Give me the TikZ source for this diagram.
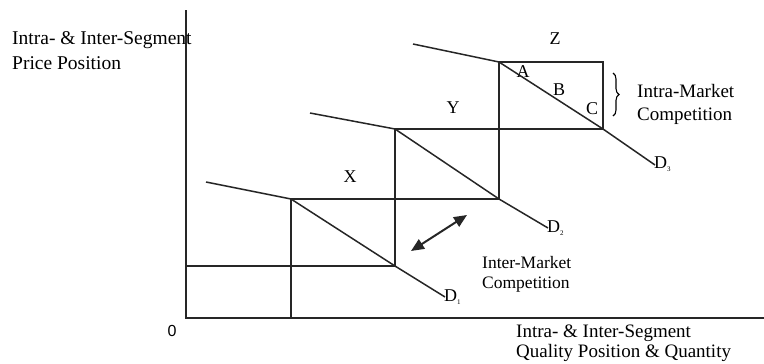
\documentclass[tikz,border=0pt]{standalone}
\usepackage{fontspec}
\setmainfont{Liberation Serif}
\newfontfamily\axisfont{Liberation Sans}
\usetikzlibrary{arrows.meta,decorations.pathreplacing}
\begin{document}
\begin{tikzpicture}[x=1pt,y=-1pt,
  ln/.style={line width=1.5pt,black!85},
  lbl/.style={inner sep=0pt,font=\fontsize{18}{22}\selectfont},
  txt/.style={inner sep=0pt,anchor=base west,font=\fontsize{19}{22}\selectfont},
  txtsm/.style={inner sep=0pt,anchor=base west,font=\fontsize{17.5}{20}\selectfont},
  sub/.style={inner sep=0pt,anchor=west,font=\fontsize{18}{22}\selectfont}]
\useasboundingbox (0,0) rectangle (764,364);
% axes
\coordinate (O) at (186,318);
\coordinate (ytop) at (186,10);
\coordinate (xend) at (764,318);
\draw[ln] (ytop) -- (O) -- (xend);
% key points
\coordinate (p1) at (291,199);
\coordinate (p2) at (395,129);
\coordinate (p3) at (499,62);
\coordinate (q1) at (395,266);
\coordinate (q2) at (499,199);
\coordinate (q3) at (603,129);
\coordinate (r3) at (603,62);
\coordinate (yl) at (186,266);
\coordinate (xb) at (291,318);
% staircase boxes
\draw[ln] (yl) -- (q1);
\draw[ln] (xb) -- (p1) -- (q2);
\draw[ln] (q1) -- (p2) -- (q3);
\draw[ln] (q2) -- (p3) -- (r3) -- (q3);
% demand curves (kinked)
\coordinate (k1) at (206,182);
\coordinate (k2) at (310,113);
\coordinate (k3) at (413,44);
\coordinate (e1) at (445,297);
\coordinate (e2) at (548,228);
\coordinate (e3) at (655,165);
\draw[ln] (k1) -- (p1) -- (q1) -- (e1);
\draw[ln] (k2) -- (p2) -- (q2) -- (e2);
\draw[ln] (k3) -- (p3) -- (q3) -- (e3);
% curve labels
\node[sub] (d1) at (444,297) {D\raisebox{-0.3ex}{\fontsize{7}{7}\selectfont 1}};
\node[sub] (d2) at (547,228) {D\raisebox{-0.3ex}{\fontsize{7}{7}\selectfont 2}};
\node[sub] (d3) at (654,164) {D\raisebox{-0.3ex}{\fontsize{7}{7}\selectfont 3}};
\node[lbl] (X) at (350,177) {X};
\node[lbl] (Y) at (453,108) {Y};
\node[lbl] (Z) at (555,39) {Z};
\node[lbl] (A) at (523,72) {A};
\node[lbl] (B) at (559,90) {B};
\node[lbl] (C) at (592,109) {C};
% brace
\coordinate (bt) at (613,73);
\coordinate (bb) at (613,116);
\draw[line width=1.1pt,decorate,decoration={brace,amplitude=6pt}] (bt) -- (bb);
% intra-market text
\node[txt] (intra1) at (637,97) {Intra-Market};
\node[txt] (intra2) at (637,120) {Competition};
% double arrow
\coordinate (a1) at (411,251);
\coordinate (a2) at (467,215);
\draw[line width=2pt,black!85,{Triangle[length=13pt,width=11pt]}-{Triangle[length=13pt,width=11pt]}] (a1) -- (a2);
\node[txtsm] (inter1) at (482,268) {Inter-Market};
\node[txtsm] (inter2) at (482,288) {Competition};
% axis labels
\node[txt,font=\fontsize{19.5}{22}\selectfont] (ylab1) at (12,44) {Intra- \& Inter-Segment};
\node[txt,font=\fontsize{19.5}{22}\selectfont] (ylab2) at (12,69) {Price Position};
\node[txt] (xlab1) at (516,337) {Intra- \& Inter-Segment};
\node[txt] (xlab2) at (516,357) {Quality Position \& Quantity};
\node[inner sep=0pt,font=\axisfont\fontsize{16}{16}\selectfont] (zero) at (172,331) {0};
\end{tikzpicture}
\end{document}
